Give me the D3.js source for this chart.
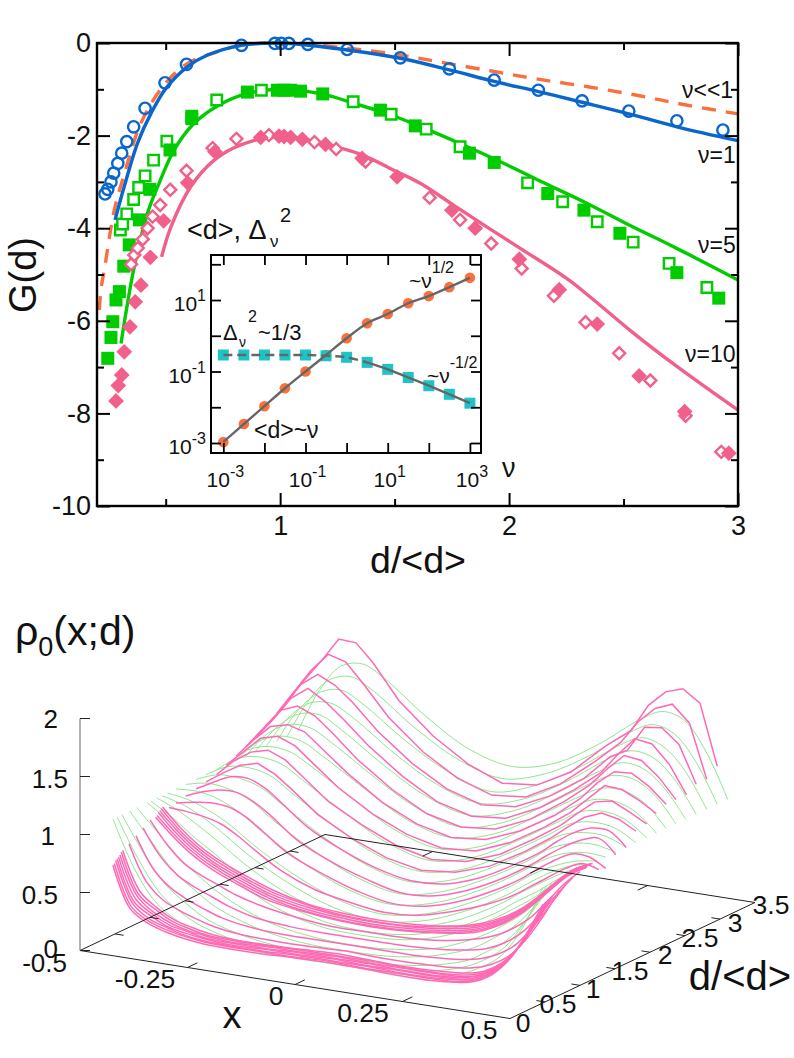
<!DOCTYPE html>
<html>
<head>
<meta charset="utf-8">
<script src="https://cdn.jsdelivr.net/npm/d3@7"></script>
<style>
  html, body { margin: 0; padding: 0; background: #fff; }
  svg { display: block; }
  text { font-family: "Liberation Sans", Arial, sans-serif; fill: #111; }
  .tick text { font-family: "Liberation Sans", Arial, sans-serif; fill: #111; }
</style>
</head>
<body>
<svg id="chart" width="794" height="1058"></svg>
<script>
// top panel: G(d) for nu <<1, 1, 5, 10
const nu1Circles = [[.235,-3.26],[.247,-3.16],[.261,-3.0],[.273,-2.81],[.291,-2.6],[.308,-2.38],[.33,-2.13],[.36,-1.81],[.41,-1.41],[.497,-.86],[.591,-.46],[.831,-.05],[.977,-.01],[1.005,-.01],[1.038,-.01],[1.121,-.03],[1.293,-.14],[1.525,-.32],[1.739,-.56],[1.935,-.8],[2.128,-1.02],[2.319,-1.25],[2.523,-1.47],[2.733,-1.68],[2.934,-1.88]];
const nu1Line = [[.279,-3.82],[.319,-3.1],[.378,-2.15],[.436,-1.52],[.501,-.98],[.596,-.51],[.683,-.26],[.831,-.05],[1,0],[1.293,-.15],[1.525,-.33],[1.739,-.58],[1.935,-.83],[2.128,-1.05],[2.319,-1.28],[2.523,-1.53],[2.733,-1.81],[3,-2.11]];
const nuSmallLine = [[.21,-5.77],[.218,-5.3],[.232,-4.9],[.276,-3.6],[.32,-2.82],[.392,-1.73],[.492,-.91],[.596,-.44],[.726,-.19],[.83,-.05],[1,0],[1.293,-.11],[1.525,-.26],[1.685,-.4],[1.917,-.6],[2.126,-.78],[2.35,-.95],[2.57,-1.14],[2.774,-1.34],[3,-1.53]];
const nu5Filled = [[.247,-6.81],[.261,-6.36],[.269,-6.02],[.283,-5.55],[.298,-5.37],[.317,-4.82],[.341,-4.36],[.385,-3.82],[.431,-3.16],[.519,-2.31],[.614,-1.63],[.857,-1.06],[.988,-1.02],[1.017,-1.02],[1.046,-1.02],[1.089,-1.04],[1.186,-1.1],[1.438,-1.45],[1.59,-1.79],[1.827,-2.38],[1.935,-2.58],[2.169,-3.25],[2.327,-3.61],[2.484,-4.11],[2.733,-4.96],[2.916,-5.51]];
const nu5Open = [[.302,-4.04],[.312,-3.91],[.33,-3.69],[.36,-3.38],[.382,-3.12],[.41,-2.87],[.447,-2.53],[.505,-2.12],[.614,-1.58],[.723,-1.23],[.918,-1.02],[1.319,-1.27],[1.485,-1.54],[1.638,-1.86],[1.786,-2.24],[2.081,-3.02],[2.234,-3.43],[2.385,-3.86],[2.542,-4.3],[2.699,-4.76],[2.864,-5.28]];
const nu5Line = [[.305,-6.49],[.36,-4.9],[.421,-3.67],[.472,-3.02],[.537,-2.31],[.617,-1.77],[.726,-1.36],[.857,-1.09],[1,-1],[1.19,-1.11],[1.32,-1.3],[1.481,-1.55],[1.61,-1.8],[1.786,-2.17],[1.96,-2.56],[2.135,-2.98],[2.339,-3.46],[2.54,-3.97],[2.73,-4.43],[3,-5.12]];
const nu10Filled = [[.283,-7.73],[.293,-7.4],[.308,-7.17],[.319,-6.67],[.344,-6.13],[.367,-5.59],[.392,-5.23],[.433,-4.63],[.491,-3.84],[.596,-3.02],[.715,-2.35],[.915,-2.04],[.995,-2.01],[1.017,-2.02],[1.046,-2.04],[1.097,-2.08],[1.198,-2.19],[1.358,-2.49],[1.511,-2.89],[1.75,-3.61],[1.852,-4],[2.045,-4.67],[2.219,-5.33],[2.385,-6.07],[2.568,-7.19],[2.767,-7.96],[2.96,-8.86]];
const nu10Open = [[.349,-4.78],[.363,-4.58],[.378,-4.43],[.4,-4.24],[.421,-4],[.443,-3.75],[.476,-3.5],[.52,-3.17],[.591,-2.76],[.705,-2.27],[.809,-2.07],[.951,-1.99],[1.15,-2.14],[1.245,-2.29],[1.373,-2.56],[1.653,-3.34],[1.786,-3.82],[1.922,-4.33],[2.055,-4.87],[2.196,-5.46],[2.334,-6.03],[2.481,-6.7],[2.617,-7.29],[2.771,-8.05],[2.927,-8.83]];
const nu10Line = [[.482,-4.62],[.523,-3.97],[.61,-3.1],[.712,-2.53],[.828,-2.2],[1,-2.02],[1.2,-2.19],[1.36,-2.42],[1.51,-2.78],[1.612,-3.03],[1.757,-3.5],[1.902,-3.97],[2.047,-4.43],[2.25,-5.08],[2.353,-5.48],[2.527,-6.2],[2.745,-7.03],[3,-7.93]];

// inset
const insetNu = [.001,.00316,.01,.0316,.1,.316,1,3.16,10,31.6,100,316,1000];
const meanD = [.00107,.0034,.0107,.034,.1,.29,.85,2.24,4.07,8.13,12.9,22.9,41.7];
const deltaSq = [.29,.29,.29,.29,.29,.275,.25,.18,.115,.068,.04,.023,.013];

// bottom panel: rho0 against x, one row per d
const pinkX = [-.5,-.46,-.42,-.38,-.34,-.3,-.24,-.16,-.08,0,.08,.16,.24,.3,.34,.38,.42,.46,.5];
const pinkD = [2.96,2.81,2.66,2.52,2.37,2.23,2.09,1.95,1.8,1.66,1.51,1.37,1.27,1.18,1.16,1.14,1.12,1.1,1.08,1,.9,.8,.7,.61,.59,.57,.55,.53,.51,.49,.47];
const pinkRows = [
  [1.31,1.51,1.70,1.91,1.90,1.75,1.46,1.20,1.01,.89,.92,1.08,1.35,1.52,1.76,1.90,1.95,1.85,1.33],
  [1.24,1.45,1.66,1.82,1.78,1.62,1.36,1.11,.93,.83,.86,1.02,1.26,1.46,1.66,1.80,1.86,1.72,1.26],
  [1.18,1.36,1.58,1.69,1.62,1.50,1.28,1.05,.88,.79,.82,.96,1.16,1.38,1.46,1.68,1.70,1.58,1.26],
  [1.12,1.30,1.50,1.61,1.52,1.40,1.20,.98,.81,.73,.76,.90,1.10,1.28,1.46,1.62,1.60,1.45,1.21],
  [1.08,1.26,1.44,1.50,1.44,1.32,1.12,.91,.75,.68,.71,.84,1.04,1.22,1.38,1.52,1.50,1.38,1.21],
  [1.04,1.20,1.34,1.38,1.34,1.22,1.04,.84,.70,.63,.66,.78,.96,1.14,1.30,1.42,1.43,1.34,1.21],
  [1.00,1.14,1.28,1.32,1.26,1.14,.96,.78,.65,.58,.60,.72,.90,1.06,1.20,1.34,1.33,1.26,1.17],
  [.96,1.10,1.20,1.24,1.18,1.06,.88,.72,.59,.52,.55,.66,.84,.99,1.12,1.24,1.27,1.20,1.12],
  [.94,1.04,1.13,1.17,1.10,.99,.81,.65,.53,.47,.50,.60,.77,.92,1.04,1.15,1.21,1.18,1.10],
  [.92,1.00,1.07,1.08,1.02,.91,.74,.59,.48,.42,.44,.54,.70,.84,.96,1.06,1.12,1.12,1.00],
  [.90,.96,1.00,1.00,.94,.84,.67,.53,.43,.36,.38,.48,.63,.77,.88,.98,1.06,1.10,.98],
  [.88,.91,.93,.92,.86,.76,.60,.47,.37,.31,.33,.42,.56,.69,.80,.90,.98,.98,.90],
  [.87,.86,.84,.80,.72,.62,.48,.36,.30,.26,.28,.36,.47,.58,.68,.78,.88,.95,.92],
  [.90,.75,.63,.54,.47,.41,.33,.26,.23,.22,.23,.26,.33,.43,.53,.66,.81,.93,1.0],
  [.89,.74,.62,.53,.46,.40,.32,.26,.22,.21,.22,.26,.32,.42,.52,.65,.80,.93,1.0],
  [.88,.73,.61,.52,.45,.39,.31,.25,.22,.21,.22,.25,.31,.41,.51,.64,.79,.92,1.0],
  [.87,.72,.60,.51,.44,.38,.30,.24,.21,.20,.21,.24,.30,.40,.50,.63,.78,.92,1.0],
  [.85,.71,.59,.50,.43,.37,.29,.23,.20,.19,.20,.23,.29,.39,.49,.62,.77,.91,.99],
  [.84,.70,.58,.49,.42,.36,.28,.23,.20,.19,.20,.23,.28,.38,.48,.61,.76,.90,.99],
  [.84,.65,.51,.43,.37,.31,.25,.20,.17,.17,.17,.19,.24,.31,.39,.50,.66,.84,.98],
  [.80,.58,.44,.36,.30,.24,.18,.15,.14,.14,.14,.15,.18,.23,.30,.41,.58,.78,.96],
  [.76,.50,.36,.28,.22,.17,.13,.11,.11,.11,.11,.11,.13,.17,.23,.33,.50,.71,.93],
  [.72,.42,.28,.21,.16,.12,.09,.08,.08,.09,.08,.08,.09,.12,.17,.26,.42,.64,.90],
  [.69,.36,.24,.16,.12,.09,.07,.07,.08,.09,.08,.07,.08,.10,.14,.23,.39,.62,.88],
  [.68,.34,.23,.15,.11,.08,.07,.07,.08,.08,.08,.07,.07,.09,.13,.22,.38,.61,.88],
  [.66,.33,.21,.14,.10,.08,.06,.07,.07,.08,.07,.07,.07,.08,.12,.22,.37,.60,.87],
  [.65,.31,.20,.13,.10,.07,.06,.06,.07,.07,.07,.06,.06,.08,.12,.21,.36,.60,.87],
  [.64,.29,.19,.12,.09,.07,.05,.06,.06,.07,.06,.06,.06,.07,.11,.20,.35,.59,.86],
  [.63,.28,.17,.12,.08,.06,.05,.05,.06,.06,.06,.05,.05,.07,.10,.19,.34,.58,.86],
  [.61,.26,.16,.11,.08,.06,.05,.05,.05,.06,.05,.05,.05,.06,.10,.18,.33,.57,.85],
  [.60,.25,.15,.10,.07,.05,.04,.04,.05,.055,.05,.04,.04,.06,.09,.17,.32,.56,.85]
];
const greenX = [-.5,-.45,-.4,-.35,-.3,-.2,-.1,0,.1,.2,.3,.35,.4,.45,.5];
const greenD = [3.11,2.96,2.81,2.66,2.51,2.37,2.23,2.09,1.95,1.8,1.66,1.51,1.37,1.25,1.17,1.1,1.01,.96,.81,.71,.6,.53,.47];
const greenRows = [
  [1.00,1.38,1.62,1.67,1.58,1.30,1.08,.99,1.08,1.30,1.58,1.67,1.62,1.38,1.00],
  [1.00,1.34,1.55,1.60,1.51,1.24,1.03,.93,1.03,1.24,1.51,1.60,1.55,1.34,1.00],
  [1.00,1.30,1.48,1.53,1.44,1.18,.97,.86,.97,1.18,1.44,1.53,1.48,1.30,1.00],
  [1.00,1.27,1.43,1.46,1.37,1.11,.90,.80,.90,1.11,1.37,1.46,1.43,1.27,1.00],
  [1.00,1.24,1.38,1.40,1.30,1.05,.84,.74,.84,1.05,1.30,1.40,1.38,1.24,1.00],
  [1.00,1.22,1.33,1.33,1.23,.99,.78,.68,.78,.99,1.23,1.33,1.33,1.22,1.00],
  [1.00,1.19,1.27,1.26,1.16,.93,.72,.63,.72,.93,1.16,1.26,1.27,1.19,1.00],
  [1.00,1.16,1.22,1.20,1.10,.87,.66,.57,.66,.87,1.10,1.20,1.22,1.16,1.00],
  [1.00,1.13,1.17,1.14,1.03,.80,.60,.51,.60,.80,1.03,1.14,1.17,1.13,1.00],
  [1.00,1.10,1.12,1.08,.96,.73,.54,.46,.54,.73,.96,1.08,1.12,1.10,1.00],
  [1.00,1.07,1.07,1.02,.90,.67,.49,.41,.49,.67,.90,1.02,1.07,1.07,1.00],
  [1.00,1.04,1.02,.95,.82,.60,.43,.35,.43,.60,.82,.95,1.02,1.04,1.00],
  [1.00,1.01,.97,.88,.75,.53,.37,.30,.37,.53,.75,.88,.97,1.01,1.00],
  [1.00,.97,.90,.80,.67,.46,.31,.25,.31,.46,.67,.80,.90,.97,1.00],
  [1.00,.95,.86,.74,.61,.41,.27,.22,.27,.41,.61,.74,.86,.95,1.00],
  [1.00,.92,.81,.69,.56,.36,.24,.20,.24,.36,.56,.69,.81,.92,1.00],
  [1.00,.89,.75,.63,.50,.31,.20,.17,.20,.31,.50,.63,.75,.89,1.00],
  [1.00,.87,.71,.58,.46,.27,.17,.15,.17,.27,.46,.58,.71,.87,1.00],
  [1.00,.81,.62,.48,.36,.20,.13,.11,.13,.20,.36,.48,.62,.81,1.00],
  [1.00,.77,.55,.41,.29,.16,.10,.09,.10,.16,.29,.41,.55,.77,1.00],
  [1.00,.70,.46,.32,.21,.11,.07,.07,.07,.11,.21,.32,.46,.70,1.00],
  [1.00,.66,.40,.26,.17,.08,.06,.05,.06,.08,.17,.26,.40,.66,1.00],
  [1.00,.60,.34,.21,.13,.06,.05,.05,.05,.06,.13,.21,.34,.60,1.00]
];

const BLUE = '#0a66cc', GREEN = '#00cc00', PINK = '#f0608a', ORANGE = '#f9703e', TEAL = '#1cc4c8', GRAY = '#666';

const svg = d3.select('#chart');

// ---- top panel ----
const x = d3.scaleLinear().domain([0.2, 3]).range([97, 738]);
const y = d3.scaleLinear().domain([-10, 0]).range([506, 43]);
const line = d3.line().x(d => x(d[0])).y(d => y(d[1])).curve(d3.curveCatmullRom);

function drawLine(data, color, dash) {
  svg.append('path').datum(data)
    .attr('d', line).attr('fill', 'none').attr('stroke', color)
    .attr('stroke-width', 3.4).attr('stroke-dasharray', dash || null);
}
function drawMarks(data, type, rotate, size, fill, stroke) {
  svg.append('g').selectAll('path').data(data).enter().append('path')
    .attr('d', d3.symbol().type(type).size(size))
    .attr('transform', d => `translate(${x(d[0])},${y(d[1])}) rotate(${rotate})`)
    .attr('fill', fill)
    .attr('stroke', stroke || 'none')
    .attr('stroke-width', 2.4);
}

drawLine(nuSmallLine, ORANGE, '14 10');
drawLine(nu5Line, GREEN);
drawMarks(nu5Open, d3.symbolSquare, 0, 110, '#fff', GREEN);
drawMarks(nu5Filled, d3.symbolSquare, 0, 169, GREEN);
drawLine(nu10Line, PINK);
drawMarks(nu10Open, d3.symbolSquare, 45, 72, '#fff', PINK);
drawMarks(nu10Filled, d3.symbolSquare, 45, 125, PINK);
drawLine(nu1Line, BLUE);
drawMarks(nu1Circles, d3.symbolCircle, 0, 100, 'none', BLUE);

function styleAxis(g, w) {
  g.select('.domain').remove();
  g.selectAll('.tick line').attr('stroke', '#000').attr('stroke-width', w);
}
const xMajor = [1, 2, 3], xMinor = [.5, 1.5, 2.5];
const yMajor = [-10, -8, -6, -4, -2, 0], yMinor = [-9, -7, -5, -3, -1];

svg.append('g').attr('transform', 'translate(0,506)')
  .call(d3.axisBottom(x).tickValues(xMajor).tickFormat(String).tickSizeInner(-13).tickSizeOuter(0).tickPadding(10))
  .call(g => { styleAxis(g, 2); g.selectAll('text').attr('font-size', 27); });
svg.append('g').attr('transform', 'translate(0,506)')
  .call(d3.axisBottom(x).tickValues(xMinor).tickFormat('').tickSizeInner(-7).tickSizeOuter(0))
  .call(g => styleAxis(g, 2));
svg.append('g').attr('transform', 'translate(0,43)')
  .call(d3.axisTop(x).tickValues(xMajor).tickFormat('').tickSizeInner(-13).tickSizeOuter(0))
  .call(g => styleAxis(g, 2));
svg.append('g').attr('transform', 'translate(0,43)')
  .call(d3.axisTop(x).tickValues(xMinor).tickFormat('').tickSizeInner(-7).tickSizeOuter(0))
  .call(g => styleAxis(g, 2));
svg.append('g').attr('transform', 'translate(97,0)')
  .call(d3.axisLeft(y).tickValues(yMajor).tickFormat(String).tickSizeInner(-13).tickSizeOuter(0).tickPadding(6))
  .call(g => { styleAxis(g, 2); g.selectAll('text').attr('font-size', 27); });
svg.append('g').attr('transform', 'translate(97,0)')
  .call(d3.axisLeft(y).tickValues(yMinor).tickFormat('').tickSizeInner(-7).tickSizeOuter(0))
  .call(g => styleAxis(g, 2));
svg.append('g').attr('transform', 'translate(738,0)')
  .call(d3.axisRight(y).tickValues(yMajor).tickFormat('').tickSizeInner(-13).tickSizeOuter(0))
  .call(g => styleAxis(g, 2));
svg.append('g').attr('transform', 'translate(738,0)')
  .call(d3.axisRight(y).tickValues(yMinor).tickFormat('').tickSizeInner(-7).tickSizeOuter(0))
  .call(g => styleAxis(g, 2));
svg.append('rect').attr('x', 97).attr('y', 43).attr('width', 641).attr('height', 463)
  .attr('fill', 'none').attr('stroke', '#000').attr('stroke-width', 2.4);

function label(txt, px, py, size, anchor) {
  return svg.append('text').attr('x', px).attr('y', py)
    .attr('font-size', size).attr('text-anchor', anchor || 'start').text(txt);
}
label('d/<d>', 418, 573, 37.5, 'middle');
svg.append('text').attr('transform', 'translate(36,275) rotate(-90)')
  .attr('font-size', 38).attr('text-anchor', 'middle').text('G(d)');
label('ν<<1', 682, 98, 23);
label('ν=1', 698, 163, 23);
label('ν=5', 698, 253, 23);
label('ν=10', 685, 362, 23);

// ---- inset ----
const ix = d3.scaleLog().domain([Math.pow(10, -3.3), Math.pow(10, 3.27)]).range([211, 481]);
const iy = d3.scaleLog().domain([Math.pow(10, -3.28), Math.pow(10, 2.26)]).range([453, 255]);
const inset = svg.append('g');
inset.append('rect').attr('x', 211).attr('y', 255).attr('width', 270).attr('height', 198).attr('fill', '#fff');

inset.selectAll('circle').data(insetNu).enter().append('circle')
  .attr('cx', d => ix(d)).attr('cy', (d, i) => iy(meanD[i])).attr('r', 5.3).attr('fill', ORANGE);
inset.selectAll('rect.sq').data(insetNu).enter().append('rect').attr('class', 'sq')
  .attr('x', d => ix(d) - 5.5).attr('y', (d, i) => iy(deltaSq[i]) - 5.5)
  .attr('width', 11).attr('height', 11).attr('fill', TEAL);

const iLine = d3.line().x(d => ix(d[0])).y(d => iy(d[1])).curve(d3.curveCatmullRom);
const meanPts = insetNu.map((v, i) => [v, meanD[i]]);
const deltaPts = insetNu.map((v, i) => [v, deltaSq[i]]);
inset.append('path').datum(meanPts).attr('d', iLine).attr('fill', 'none').attr('stroke', GRAY).attr('stroke-width', 2.4);
inset.append('path').datum(deltaPts.slice(0, 8)).attr('d', iLine).attr('fill', 'none').attr('stroke', GRAY).attr('stroke-width', 2.4).attr('stroke-dasharray', '9 5');
inset.append('path').datum(deltaPts.slice(7)).attr('d', iLine).attr('fill', 'none').attr('stroke', GRAY).attr('stroke-width', 2.4);

const xDecades = [.001, .01, .1, 1, 10, 100, 1000];
const yDecades = [.001, .01, .1, 1, 10, 100];
const iTick = 10;
inset.append('g').attr('transform', 'translate(0,453)')
  .call(d3.axisBottom(ix).tickValues(xDecades).tickFormat('').tickSizeInner(-iTick).tickSizeOuter(0)).call(g => styleAxis(g, 1.8));
inset.append('g').attr('transform', 'translate(0,255)')
  .call(d3.axisTop(ix).tickValues(xDecades).tickFormat('').tickSizeInner(-iTick).tickSizeOuter(0)).call(g => styleAxis(g, 1.8));
inset.append('g').attr('transform', 'translate(211,0)')
  .call(d3.axisLeft(iy).tickValues(yDecades).tickFormat('').tickSizeInner(-iTick).tickSizeOuter(0)).call(g => styleAxis(g, 1.8));
inset.append('g').attr('transform', 'translate(481,0)')
  .call(d3.axisRight(iy).tickValues(yDecades).tickFormat('').tickSizeInner(-iTick).tickSizeOuter(0)).call(g => styleAxis(g, 1.8));
inset.append('rect').attr('x', 211).attr('y', 255).attr('width', 270).attr('height', 198)
  .attr('fill', 'none').attr('stroke', '#000').attr('stroke-width', 2);

// base text with a raised (or lowered) small part
function powerText(base, small, px, py, size, smallSize, dy, anchor) {
  const t = svg.append('text').attr('x', px).attr('y', py)
    .attr('font-size', size).attr('text-anchor', anchor || 'start');
  t.append('tspan').text(base);
  t.append('tspan').attr('font-size', smallSize).attr('dy', dy).text(small);
  return t;
}
const decadeExp = { 0.001: '-3', 0.1: '-1', 10: '1', 1000: '3' };
[.001, .1, 10, 1000].forEach(v => {
  powerText('10', decadeExp[v], ix(v) + 2, 487, 21, 16, -10, 'middle');
});
[.001, .1, 10].forEach(v => {
  powerText('10', decadeExp[v], 206, iy(v) + 11, 21, 16, -10, 'end');
});
label('ν', 502, 477, 27);

label('<d>, Δ', 187, 239, 27);
label('ν', 270, 247, 17);
label('2', 280, 222, 20);
label('Δ', 223, 340, 22);
label('ν', 239, 347, 14);
label('2', 248, 322, 16);
label('~1/3', 258, 340, 22);
label('<d>~ν', 254, 438, 23);
powerText('~ν', '1/2', 409, 288, 21, 16, -15);
powerText('~ν', '-1/2', 427, 383, 21, 16, -15);

// ---- bottom panel: fixed oblique projection of the (x, d, rho) box ----
const xPx = d3.scaleLinear().domain([-.5, .5]).range([0, 430]);
const xPy = d3.scaleLinear().domain([-.5, .5]).range([0, 68]);
const dPx = d3.scaleLinear().domain([0, 3.5]).range([0, 245]);
const dPy = d3.scaleLinear().domain([0, 3.5]).range([0, -116]);
const zPy = d3.scaleLinear().domain([0, 2]).range([0, -232]);
const ORIGIN = [80, 950.5];
const project = (vx, vd, vz) => [
  ORIGIN[0] + xPx(vx) + dPx(vd),
  ORIGIN[1] + xPy(vx) + dPy(vd) + zPy(vz)
];

const surface = svg.append('g');
const smoothPath = d3.line().curve(d3.curveCatmullRom);
const roughPath = d3.line().curve(d3.curveLinear);
// theory curves first, the measured ones sit on top of them
greenRows.forEach((r, i) => {
  surface.append('path')
    .attr('d', smoothPath(r.map((z, j) => project(greenX[j], greenD[i], z))))
    .attr('fill', 'none').attr('stroke', '#8fe68f').attr('stroke-width', 1);
});
pinkRows.forEach((r, i) => {
  const pts = r.map((z, j) => project(pinkX[j], pinkD[i], z));
  surface.append('path')
    .attr('d', pinkD[i] < 1.8 ? smoothPath(pts) : roughPath(pts))
    .attr('fill', 'none').attr('stroke', '#ff69b4').attr('stroke-width', 1.5);
});

// box edges and ticks
const frame = svg.append('g').attr('stroke', '#222').attr('stroke-width', 1).attr('fill', 'none');
const seg = (a, b, color) => frame.append('line')
  .attr('x1', a[0]).attr('y1', a[1]).attr('x2', b[0]).attr('y2', b[1])
  .attr('stroke', color || null);
const corners = [[-.5, 0], [.5, 0], [.5, 3.5], [-.5, 3.5], [-.5, 0]];
d3.pairs(corners).forEach(([a, b]) => seg(project(a[0], a[1], 0), project(b[0], b[1], 0)));
seg(project(-.5, 0, 0), project(-.5, 0, 2), GRAY);

const zTicks = [0, .5, 1, 1.5, 2];
const xTicks3 = [-.25, 0, .25];
const dTicks3 = [.5, 1, 1.5, 2, 2.5, 3];
zTicks.forEach(z => {
  const p = project(-.5, 0, z);
  seg(p, [p[0] + 10, p[1]]);
});
xTicks3.forEach(v => {
  seg(project(v, 0, 0), project(v, .14, 0));
  seg(project(v, 3.5, 0), project(v, 3.36, 0));
});
dTicks3.forEach(v => {
  seg(project(-.5, v, 0), project(-.48, v, 0));
  seg(project(.5, v, 0), project(.48, v, 0));
});

label('2', 58, 728, 26, 'end');
label('1.5', 68, 788, 26, 'end');
label('1', 55, 845, 26, 'end');
label('0.5', 58, 904, 26, 'end');
label('0', 58, 958, 26, 'end');
label('-0.5', 67, 972, 26, 'end');
label('-0.25', 145, 988, 26.5, 'middle');
label('0', 276, 1005, 26.5, 'middle');
label('0.25', 363, 1022, 26.5, 'middle');
label('0.5', 479, 1039, 26.5, 'middle');
label('x', 232, 1028, 38, 'middle');
label('0', 523, 1032, 26.5, 'middle');
label('0.5', 558, 1013, 26.5, 'middle');
label('1', 593, 998, 26.5, 'middle');
label('1.5', 630, 980, 26.5, 'middle');
label('2', 665, 964, 26.5, 'middle');
label('2.5', 700, 947, 26.5, 'middle');
label('3', 735, 932, 26.5, 'middle');
label('3.5', 771, 914, 26.5, 'middle');
label('d/<d>', 740, 990, 40, 'middle');
const rho = svg.append('text').attr('x', 15).attr('y', 645).attr('font-size', 41);
rho.append('tspan').text('ρ');
rho.append('tspan').attr('font-size', 27).attr('dy', 11).text('0');
rho.append('tspan').attr('dy', -11).text('(x;d)');
</script>
</body>
</html>
